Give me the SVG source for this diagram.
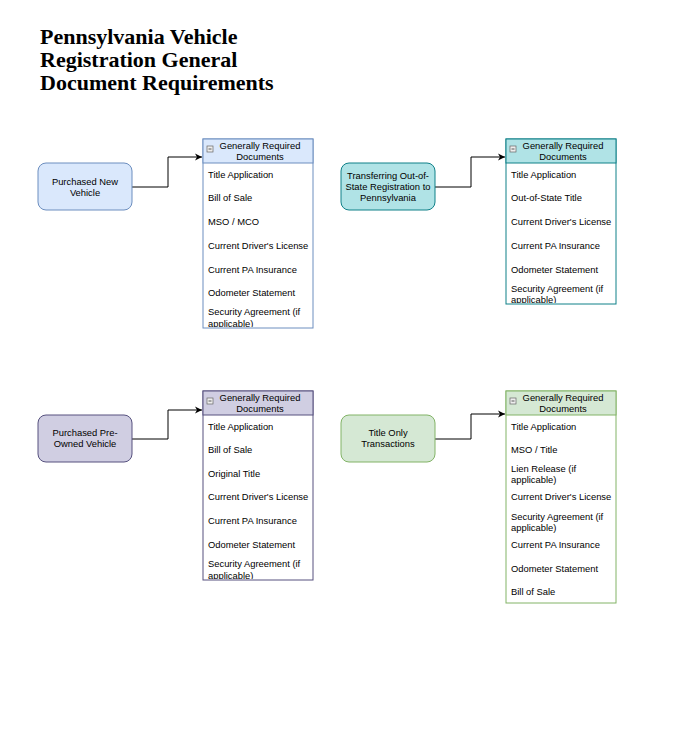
<svg xmlns="http://www.w3.org/2000/svg" width="687" height="730" viewBox="0 0 687 730">
<style>
text{font-family:"Liberation Sans",Arial,sans-serif;font-size:9.4px;fill:#000}
.t{font-family:"Liberation Serif","Times New Roman",serif;font-size:22px;font-weight:bold}
.c{text-anchor:middle}
.e{fill:none;stroke:#000;stroke-width:1}
</style>
<defs>
<marker id="a" markerWidth="8" markerHeight="8" refX="7" refY="4" orient="auto" markerUnits="userSpaceOnUse"><path d="M0,0.5 L7,4 L0,7.5 L2,4z" fill="#000"/></marker>
<clipPath id="k1"><rect x="203" y="163" width="110" height="164"/></clipPath>
<clipPath id="k2"><rect x="506" y="163" width="110" height="140"/></clipPath>
<clipPath id="k3"><rect x="203" y="415" width="110" height="164"/></clipPath>
</defs>
<rect width="687" height="730" fill="#fff"/>
<g id="title"><text class="t" x="40" y="44">Pennsylvania Vehicle</text><text class="t" x="40" y="67">Registration General</text><text class="t" x="40" y="90">Document Requirements</text></g>
<g id="connectors">
<path class="e" d="M132,187 H168 V157 H202" marker-end="url(#a)"/>
<path class="e" d="M435,187 H471 V157 H505" marker-end="url(#a)"/>
<path class="e" d="M132,439 H168 V410 H202" marker-end="url(#a)"/>
<path class="e" d="M435,439 H471 V414 H505" marker-end="url(#a)"/>
</g>
<g id="n1"><rect x="38" y="163" width="94" height="47" rx="8" fill="#dae8fc" stroke="#6c8ebf"/><text class="c" x="85" y="185">Purchased New</text><text class="c" x="85" y="196">Vehicle</text></g>
<g id="n2"><rect x="341" y="163" width="94" height="47" rx="8" fill="#b0e3e6" stroke="#0e8088"/><text class="c" x="388" y="179">Transferring Out-of-</text><text class="c" x="388" y="190">State Registration to</text><text class="c" x="388" y="201">Pennsylvania</text></g>
<g id="n3"><rect x="38" y="415" width="94" height="47" rx="8" fill="#d0cee2" stroke="#56517e"/><text class="c" x="85" y="436">Purchased Pre-</text><text class="c" x="85" y="447">Owned Vehicle</text></g>
<g id="n4"><rect x="341" y="415" width="94" height="47" rx="8" fill="#d5e8d4" stroke="#82b366"/><text class="c" x="388" y="436">Title Only</text><text class="c" x="388" y="447">Transactions</text></g>

<g id="l1">
<rect x="203" y="139" width="110" height="189" fill="#fff" stroke="#6c8ebf"/>
<rect x="203" y="139" width="110" height="24" fill="#dae8fc" stroke="#6c8ebf"/>
<rect x="207" y="146" width="6" height="6" fill="#eee" stroke="#666" stroke-width="0.7"/><path d="M208.5,149 H211.5" stroke="#333" stroke-width="0.8"/>
<text class="c" x="260" y="149">Generally Required</text><text class="c" x="260" y="160">Documents</text>
<g clip-path="url(#k1)">
<text x="208" y="178">Title Application</text><text x="208" y="201">Bill of Sale</text><text x="208" y="225">MSO / MCO</text><text x="208" y="249">Current Driver's License</text><text x="208" y="273">Current PA Insurance</text><text x="208" y="296">Odometer Statement</text><text x="208" y="315">Security Agreement (if</text><text x="208" y="327">applicable)</text>
</g></g>

<g id="l2">
<rect x="506" y="139" width="110" height="165" fill="#fff" stroke="#0e8088"/>
<rect x="506" y="139" width="110" height="24" fill="#b0e3e6" stroke="#0e8088"/>
<rect x="510" y="146" width="6" height="6" fill="#eee" stroke="#666" stroke-width="0.7"/><path d="M511.5,149 H514.5" stroke="#333" stroke-width="0.8"/>
<text class="c" x="563" y="149">Generally Required</text><text class="c" x="563" y="160">Documents</text>
<g clip-path="url(#k2)">
<text x="511" y="178">Title Application</text><text x="511" y="201">Out-of-State Title</text><text x="511" y="225">Current Driver's License</text><text x="511" y="249">Current PA Insurance</text><text x="511" y="273">Odometer Statement</text><text x="511" y="292">Security Agreement (if</text><text x="511" y="303">applicable)</text>
</g></g>

<g id="l3">
<rect x="203" y="391" width="110" height="189" fill="#fff" stroke="#56517e"/>
<rect x="203" y="391" width="110" height="24" fill="#d0cee2" stroke="#56517e"/>
<rect x="207" y="398" width="6" height="6" fill="#eee" stroke="#666" stroke-width="0.7"/><path d="M208.5,401 H211.5" stroke="#333" stroke-width="0.8"/>
<text class="c" x="260" y="401">Generally Required</text><text class="c" x="260" y="412">Documents</text>
<g clip-path="url(#k3)">
<text x="208" y="430">Title Application</text><text x="208" y="453">Bill of Sale</text><text x="208" y="477">Original Title</text><text x="208" y="500">Current Driver's License</text><text x="208" y="524">Current PA Insurance</text><text x="208" y="548">Odometer Statement</text><text x="208" y="567">Security Agreement (if</text><text x="208" y="579">applicable)</text>
</g></g>

<g id="l4">
<rect x="506" y="391" width="110" height="212" fill="#fff" stroke="#82b366"/>
<rect x="506" y="391" width="110" height="24" fill="#d5e8d4" stroke="#82b366"/>
<rect x="510" y="398" width="6" height="6" fill="#eee" stroke="#666" stroke-width="0.7"/><path d="M511.5,401 H514.5" stroke="#333" stroke-width="0.8"/>
<text class="c" x="563" y="401">Generally Required</text><text class="c" x="563" y="412">Documents</text>
<text x="511" y="430">Title Application</text><text x="511" y="453">MSO / Title</text><text x="511" y="472">Lien Release (if</text><text x="511" y="483">applicable)</text><text x="511" y="500">Current Driver's License</text><text x="511" y="520">Security Agreement (if</text><text x="511" y="531">applicable)</text><text x="511" y="548">Current PA Insurance</text><text x="511" y="572">Odometer Statement</text><text x="511" y="595">Bill of Sale</text>
</g>
</svg>
